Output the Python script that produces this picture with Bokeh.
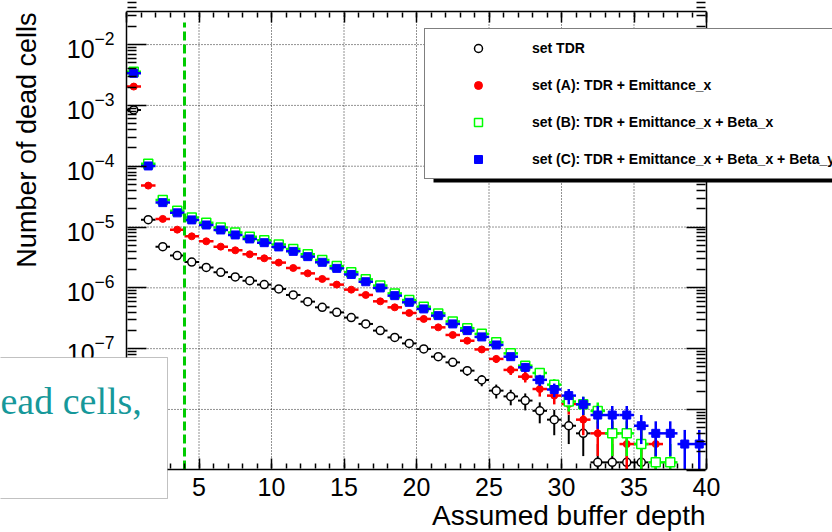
import math
import numpy as np
from bokeh.plotting import figure
from bokeh.models import (FixedTicker, LogAxis, LinearAxis, BoxAnnotation, Label,
                          Legend, LegendItem, Range1d, ColumnDataSource)
from bokeh.embed import file_html
from bokeh.resources import INLINE

nan = float("nan")

# ---------------- data ----------------
depth = [i + 0.5 for i in range(40)]          # bin centres, bins of width 1
bin_half = 0.5

set_tdr = [8.43e-4, 1.32e-5, 4.76e-6, 3.39e-6, 2.65e-6, 2.17e-6, 1.80e-6, 1.51e-6, 1.31e-6, 1.13e-6,
           9.6e-7, 7.64e-7, 5.93e-7, 4.78e-7, 3.95e-7, 3.24e-7, 2.55e-7, 1.98e-7, 1.53e-7, 1.22e-7,
           9.9e-8, 7.38e-8, 5.95e-8, 4.35e-8, 3.05e-8, 2.04e-8, 1.64e-8, 1.40e-8, 9.5e-9, 6.8e-9,
           5.4e-9, 4.05e-9, 1.35e-9, 1.35e-9, 1.35e-9, 1.35e-9, nan, nan, nan, nan]

set_a = [2.04e-3, 4.80e-5, 1.36e-5, 9.06e-6, 7.03e-6, 5.82e-6, 4.76e-6, 4.14e-6, 3.56e-6, 3.06e-6,
         2.60e-6, 2.12e-6, 1.73e-6, 1.40e-6, 1.13e-6, 9.34e-7, 7.64e-7, 6.0e-7, 4.78e-7, 3.86e-7,
         3.08e-7, 2.24e-7, 1.68e-7, 1.35e-7, 9.7e-8, 6.78e-8, 4.47e-8, 3.46e-8, 2.17e-8, 1.69e-8,
         1.23e-8, 6.8e-9, 4.05e-9, 4.05e-9, 2.7e-9, 2.7e-9, 2.7e-9, nan, nan, nan]

set_b = [3.56e-3, 1.10e-4, 2.77e-5, 1.86e-5, 1.44e-5, 1.18e-5, 9.8e-6, 8.1e-6, 6.95e-6, 6.05e-6,
         5.15e-6, 4.35e-6, 3.56e-6, 2.87e-6, 2.28e-6, 1.81e-6, 1.38e-6, 1.09e-6, 8.1e-7, 6.3e-7,
         4.9e-7, 3.8e-7, 2.8e-7, 2.17e-7, 1.75e-7, 1.27e-7, 8.37e-8, 5.25e-8, 3.98e-8, 2.56e-8,
         1.35e-8, 1.215e-8, 9.45e-9, 4.05e-9, 4.05e-9, 2.7e-9, 1.35e-9, 1.35e-9, nan, nan]

set_c = [3.37e-3, 1.01e-4, 2.52e-5, 1.71e-5, 1.31e-5, 1.08e-5, 8.95e-6, 7.41e-6, 6.37e-6, 5.53e-6,
         4.71e-6, 3.98e-6, 3.26e-6, 2.63e-6, 2.09e-6, 1.66e-6, 1.26e-6, 9.96e-7, 7.44e-7, 5.78e-7,
         4.50e-7, 3.49e-7, 2.55e-7, 1.98e-7, 1.56e-7, 1.15e-7, 7.38e-8, 4.92e-8, 3.07e-8, 2.13e-8,
         1.69e-8, 1.215e-8, 8.1e-9, 8.1e-9, 8.1e-9, 5.4e-9, 4.05e-9, 4.05e-9, 2.7e-9, 2.7e-9]

count_weight = 1.35e-9      # value of a single dead-cell count (Poisson errors)

series_labels = ["set TDR",
                 "set (A): TDR + Emittance_x",
                 "set (B): TDR + Emittance_x + Beta_x",
                 "set (C): TDR + Emittance_x + Beta_x + Beta_y"]

buffer_cut = 4
buffer_cut_top = 0.023

x_lo, x_hi = 0, 40
y_lo, y_hi = 1.03e-9, 0.035
x_major = [0, 5, 10, 15, 20, 25, 30, 35, 40]
x_minor = list(range(0, 41))
y_major = [1e-9, 1e-8, 1e-7, 1e-6, 1e-5, 1e-4, 1e-3, 1e-2]
y_minor = [m * d for d in y_major for m in range(2, 10)]

x_title = "Assumed buffer depth"
y_title = "Number of dead cells"
note_text = "ead cells,"

# ---------------- layout geometry (pixels) ----------------
W, H = 832, 532
F_LEFT, F_RIGHT, F_TOP, F_BOTTOM = 126, 706, 11, 469
px_x = (F_RIGHT - F_LEFT) / (x_hi - x_lo)
px_dec = (F_BOTTOM - F_TOP) / (math.log10(y_hi) - math.log10(y_lo))
view_x = (x_lo - F_LEFT / px_x, x_hi + (W - F_RIGHT) / px_x)
view_y = (10 ** (math.log10(y_lo) - (H - F_BOTTOM) / px_dec),
          10 ** (math.log10(y_hi) + F_TOP / px_dec))

FONT = "Liberation Sans"
p = figure(width=W, height=H, x_range=Range1d(*view_x), y_range=Range1d(*view_y),
           y_axis_type="log", output_backend="svg", toolbar_location=None,
           min_border=0, x_axis_location=None, y_axis_location=None)
p.background_fill_color = "white"
p.border_fill_color = "white"
p.outline_line_color = None
p.xgrid.visible = False
p.ygrid.visible = False

xt = FixedTicker(ticks=x_major, minor_ticks=x_minor)
yt = FixedTicker(ticks=y_major, minor_ticks=y_minor)

# dotted grid inside the frame
grid_x = [t for t in x_major if x_lo < t < x_hi]
grid_y = [t for t in y_major if y_lo < t < y_hi]
p.segment(x0=grid_x, y0=[y_lo] * len(grid_x), x1=grid_x, y1=[y_hi] * len(grid_x),
          line_color="black", line_dash="1 2", line_width=1, line_alpha=0.85)
p.segment(x0=[x_lo] * len(grid_y), y0=grid_y, x1=[x_hi] * len(grid_y), y1=grid_y,
          line_color="black", line_dash="1 2", line_width=1, line_alpha=0.85)


def base_axis(cls, ticker, bounds, loc, line=True):
    ax = cls(ticker=ticker, bounds=bounds, fixed_location=loc)
    ax.axis_line_color = "black" if line else None
    ax.axis_line_width = 1.5
    ax.major_label_text_font = FONT
    ax.major_label_text_color = "black"
    return ax


def labelled_axis(cls, ticker, bounds, loc, standoff):
    ax = base_axis(cls, ticker, bounds, loc)
    ax.major_tick_line_color = None
    ax.minor_tick_line_color = None
    ax.major_tick_in = ax.major_tick_out = 0
    ax.minor_tick_in = ax.minor_tick_out = 0
    ax.major_label_text_font_size = "25px"
    ax.major_label_standoff = standoff
    return ax


def tick_axis(cls, ticker, bounds, loc, major_len, minor_len, line):
    # ticks pointing into the frame, starting just inside the frame line
    ax = base_axis(cls, ticker, bounds, loc, line)
    ax.major_tick_line_color = "black"
    ax.minor_tick_line_color = "black"
    ax.major_tick_line_width = 1.5
    ax.minor_tick_line_width = 1.5
    ax.major_tick_out = -1
    ax.minor_tick_out = -1
    ax.major_tick_in = major_len
    ax.minor_tick_in = minor_len
    ax.major_label_text_font_size = "1px"
    ax.major_label_standoff = 0
    ax.major_label_overrides = {t: "" for t in ticker.ticks}
    return ax


p.add_layout(labelled_axis(LinearAxis, xt, (x_lo, x_hi), y_lo, 8), "below")
p.add_layout(tick_axis(LinearAxis, xt, (x_lo, x_hi), y_lo, 11, 6, False), "below")
p.add_layout(tick_axis(LinearAxis, xt, (x_lo, x_hi), y_hi, 11, 6, True), "above")
p.add_layout(labelled_axis(LogAxis, yt, (y_lo, y_hi), x_lo, 12), "left")
p.add_layout(tick_axis(LogAxis, yt, (y_lo, y_hi), x_lo, 20, 10, False), "left")
p.add_layout(tick_axis(LogAxis, yt, (y_lo, y_hi), x_hi, 20, 10, True), "right")

# ---------------- data marks ----------------
styles = [
    dict(color="black", marker="circle", size=8, fill="white", lw=1.5, bar=2),
    dict(color="#ff0000", marker="circle", size=7, fill="#ff0000", lw=1, bar=2.5),
    dict(color="#00ff00", marker="square", size=9, fill="white", lw=1.5, bar=2.5),
    dict(color="#0000ff", marker="square", size=8, fill="#0000ff", lw=1, bar=2.5),
]

legend_renderers = []
for vals, st in zip([set_tdr, set_a, set_b, set_c], styles):
    v = np.array(vals, dtype=float)
    xx = np.array(depth, dtype=float)
    ok = ~np.isnan(v)
    v, xx = v[ok], xx[ok]
    err = np.sqrt(v * count_weight)
    src = ColumnDataSource(dict(
        x=xx, y=v, lo=np.maximum(v - err, y_lo), hi=np.minimum(v + err, y_hi),
        xl=xx - bin_half, xr=xx + bin_half))
    p.segment(x0="x", y0="lo", x1="x", y1="hi", source=src,
              line_color=st["color"], line_width=st["bar"])
    p.segment(x0="xl", y0="y", x1="xr", y1="y", source=src,
              line_color=st["color"], line_width=st["bar"])
    r = p.scatter(x="x", y="y", source=src, marker=st["marker"], size=st["size"],
                  line_color=st["color"], fill_color=st["fill"], line_width=st["lw"])
    legend_renderers.append(r)

# cut line at the assumed buffer depth
p.segment(x0=[buffer_cut], y0=[y_lo], x1=[buffer_cut], y1=[buffer_cut_top],
          line_color="#00cc00", line_width=3, line_dash="9 4")

# ---------------- axis titles (screen units, y measured upward) ----------------
p.add_layout(Label(x=26, y=H - 12, x_units="screen", y_units="screen", text=y_title,
                   angle=math.pi / 2, text_align="right", text_baseline="alphabetic",
                   text_font=FONT, text_font_size="27px", text_color="black"))
p.add_layout(Label(x=705, y=H - 515, x_units="screen", y_units="screen", text=x_title,
                   text_align="right", text_baseline="alphabetic",
                   text_font=FONT, text_font_size="28px", text_color="black"))

# ---------------- legend ----------------
p.add_layout(BoxAnnotation(left=433, right=1000, top=H - 33, bottom=H - 182,
                           left_units="screen", right_units="screen",
                           top_units="screen", bottom_units="screen",
                           fill_color="black", fill_alpha=1, line_color=None))
legend = Legend(items=[LegendItem(label=lab, renderers=[r])
                       for lab, r in zip(series_labels, legend_renderers)],
                location=(424, H - 179), orientation="vertical",
                padding=9, spacing=17, margin=0,
                glyph_width=88, glyph_height=20, label_height=20, label_width=340,
                label_standoff=10,
                border_line_color="black", border_line_width=1.5,
                background_fill_color="white", background_fill_alpha=1,
                label_text_font=FONT, label_text_font_style="bold",
                label_text_font_size="14px", label_text_color="black")
p.add_layout(legend, "center")

# ---------------- overlapping note box ----------------
p.add_layout(BoxAnnotation(left=-10, right=167, top=H - 357, bottom=H - 498,
                           left_units="screen", right_units="screen",
                           top_units="screen", bottom_units="screen",
                           fill_color="white", fill_alpha=1,
                           line_color="#333333", line_width=1, level="overlay"))
p.add_layout(Label(x=0, y=H - 400, x_units="screen", y_units="screen", text=note_text,
                   text_align="left", text_baseline="alphabetic",
                   text_font="Liberation Serif", text_font_size="38px",
                   text_color="#16989a", level="overlay"))

open("out.html", "w").write(file_html(p, INLINE))
